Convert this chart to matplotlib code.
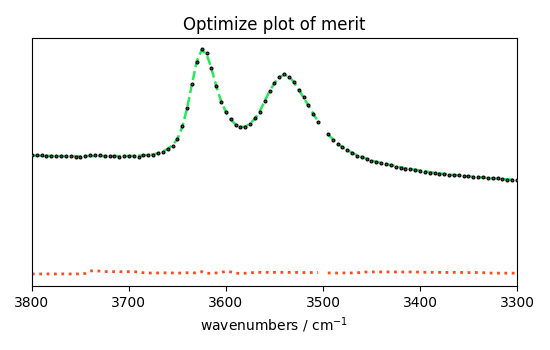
import matplotlib
matplotlib.use("Agg")
import matplotlib.pyplot as plt
import numpy as np

nan = np.nan

wavenumbers = np.arange(3800, 3299, -5)

data = [1.31, 1.31, 1.31, 1.305, 1.30, 1.30, 1.30, 1.30, 1.30, 1.295,
        1.295, 1.30, 1.315, 1.315, 1.31, 1.305, 1.305, 1.30, 1.295, 1.30,
        1.30, 1.30, 1.295, 1.31, 1.315, 1.315, 1.33, 1.345, 1.375, 1.40,
        1.47, 1.60, 1.78, 2.02, 2.24, 2.37, 2.33, 2.18, 2.00, 1.84,
        1.74, 1.67, 1.61, 1.59, 1.59, 1.62, 1.68, 1.74, 1.85, 1.95,
        2.03, 2.09, 2.125, 2.09, 2.04, 1.96, 1.89, 1.81, 1.72, 1.64,
        nan, 1.52, 1.465, 1.42, 1.39, 1.36, 1.33, 1.305, 1.29, 1.27,
        1.25, 1.24, 1.23, 1.22, 1.21, 1.195, 1.185, 1.175, 1.17, 1.165,
        1.155, 1.145, 1.135, 1.13, 1.125, 1.12, 1.115, 1.11, 1.11, 1.10,
        1.10, 1.095, 1.09, 1.09, 1.085, 1.08, 1.08, 1.07, 1.06, 1.06,
        1.06]

fit = [1.305, 1.305, 1.303, 1.302, 1.301, 1.300, 1.300, 1.299, 1.299, 1.299,
       1.299, 1.300, 1.300, 1.300, 1.300, 1.300, 1.300, 1.300, 1.300, 1.300,
       1.301, 1.302, 1.304, 1.307, 1.311, 1.317, 1.327, 1.345, 1.372, 1.41,
       1.47, 1.59, 1.78, 2.02, 2.25, 2.36, 2.32, 2.18, 2.00, 1.85,
       1.74, 1.665, 1.615, 1.59, 1.595, 1.625, 1.675, 1.75, 1.85, 1.95,
       2.03, 2.09, 2.115, 2.095, 2.04, 1.965, 1.885, 1.805, 1.725, 1.645,
       nan, 1.52, 1.47, 1.425, 1.39, 1.36, 1.333, 1.31, 1.29, 1.272,
       1.255, 1.242, 1.23, 1.22, 1.21, 1.198, 1.188, 1.178, 1.17, 1.163,
       1.155, 1.147, 1.14, 1.133, 1.127, 1.121, 1.116, 1.111, 1.106, 1.101,
       1.097, 1.093, 1.089, 1.085, 1.081, 1.077, 1.073, 1.07, 1.066, 1.063,
       1.06]

residual = [0.12, 0.12, 0.12, 0.12, 0.121, 0.12, 0.12, 0.121, 0.12, 0.12,
            0.121, 0.125, 0.15, 0.153, 0.148, 0.143, 0.145, 0.143, 0.143, 0.142,
            0.143, 0.142, 0.14, 0.132, 0.13, 0.128, 0.13, 0.132, 0.13, 0.13,
            0.128, 0.13, 0.132, 0.13, 0.131, 0.143, 0.127, 0.126, 0.13, 0.135,
            0.147, 0.14, 0.127, 0.126, 0.127, 0.13, 0.137, 0.136, 0.138, 0.135,
            0.136, 0.134, 0.137, 0.136, 0.136, 0.135, 0.134, 0.135, 0.134, 0.135,
            nan, 0.13, 0.13, 0.129, 0.13, 0.131, 0.13, 0.132, 0.135, 0.14,
            0.14, 0.141, 0.14, 0.14, 0.141, 0.14, 0.14, 0.139, 0.14, 0.14,
            0.138, 0.137, 0.136, 0.137, 0.136, 0.136, 0.135, 0.136, 0.135, 0.135,
            0.134, 0.135, 0.134, 0.133, 0.13, 0.128, 0.128, 0.128, 0.128, 0.128,
            0.128]

fig = plt.figure(figsize=(5.5, 3.5), dpi=100)
ax = fig.add_axes([0.058, 0.183, 0.882, 0.708])

ax.plot(wavenumbers, fit, '--', color='#25e85a', lw=1.8, zorder=2)
ax.plot(wavenumbers, data, 'o', ms=2.1, mfc='#4a4a4a', mec='k', mew=0.8, zorder=3)
ax.plot(wavenumbers, residual, ':', color='#ff4a1c', lw=2, zorder=2)

ax.set_xlim(3800, 3300)
ax.set_ylim(0, 2.48)
ax.set_xticks([3800, 3700, 3600, 3500, 3400, 3300])
ax.set_yticks([])
ax.set_xlabel('wavenumbers / cm$^{-1}$')
ax.set_title('Optimize plot of merit')

fig.savefig('out.png', dpi=100)
